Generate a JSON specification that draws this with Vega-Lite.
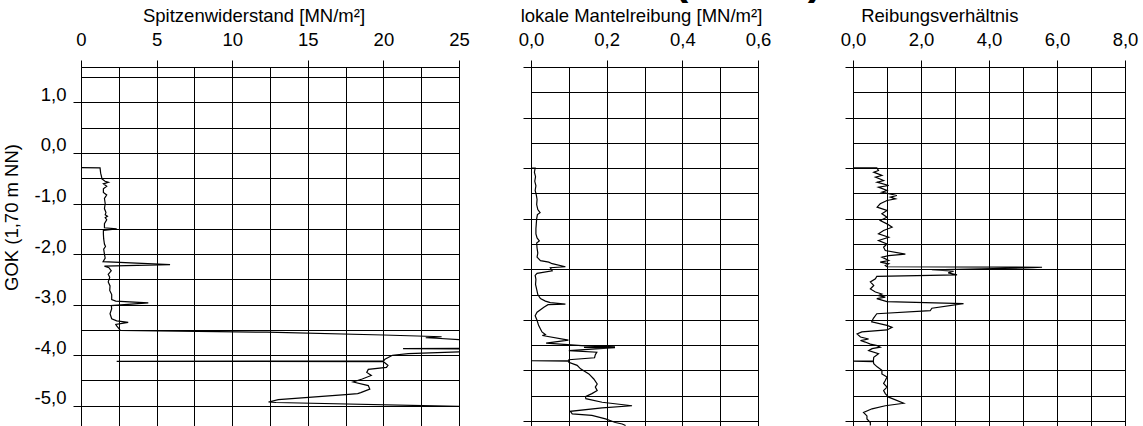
{
  "$schema": "https://vega.github.io/schema/vega-lite/v6.json",
  "padding": {"left": 1, "top": -40, "right": 0, "bottom": 0},
  "background": "white",
  "bounds": "flush",
  "spacing": 72,
  "title": {
    "text": "(\u00a0\u00a0\u00a0\u00a0\u00a0\u00a0\u00a0\u00a0\u00a0\u00a0)",
    "font": "Liberation Sans", "fontSize": 43, "fontWeight": "bold", "color": "#000",
    "anchor": "start", "frame": "group", "dx": 593, "baseline": "alphabetic", "offset": -31
  },
  "config": {
    "view": {"stroke": "#000", "strokeWidth": 1},
    "font": "Liberation Sans",
    "axis": {
      "labelFont": "Liberation Sans", "titleFont": "Liberation Sans",
      "labelFontSize": 18.5, "titleFontSize": 18.5, "titleFontWeight": "normal",
      "labelColor": "#000", "titleColor": "#000",
      "gridColor": "#000", "gridOpacity": 1, "gridWidth": 1,
      "tickColor": "#000", "tickWidth": 1, "domain": false,
      "labelOverlap": false, "labelFlush": false
    }
  },
  "datasets": {
    "qc": [
      {"z": -0.29, "v": 0.0}, {"z": -0.295, "v": 1.26}, {"z": -0.4, "v": 1.3}, {"z": -0.48, "v": 1.37},
      {"z": -0.51, "v": 1.37}, {"z": -0.56, "v": 1.59}, {"z": -0.58, "v": 1.81}, {"z": -0.61, "v": 1.48},
      {"z": -0.66, "v": 1.7}, {"z": -0.71, "v": 1.48}, {"z": -0.78, "v": 1.48}, {"z": -0.83, "v": 1.7},
      {"z": -0.9, "v": 1.55}, {"z": -1.0, "v": 1.6}, {"z": -1.1, "v": 1.55}, {"z": -1.18, "v": 1.65},
      {"z": -1.22, "v": 1.6}, {"z": -1.25, "v": 1.75}, {"z": -1.28, "v": 1.6}, {"z": -1.32, "v": 1.7},
      {"z": -1.4, "v": 1.55}, {"z": -1.48, "v": 1.55}, {"z": -1.5, "v": 2.36}, {"z": -1.53, "v": 1.48},
      {"z": -1.6, "v": 1.48}, {"z": -1.7, "v": 1.5}, {"z": -1.8, "v": 1.55}, {"z": -1.85, "v": 1.62},
      {"z": -1.9, "v": 1.5}, {"z": -2.0, "v": 1.55}, {"z": -2.08, "v": 1.6}, {"z": -2.15, "v": 1.46},
      {"z": -2.21, "v": 5.89}, {"z": -2.24, "v": 1.55}, {"z": -2.27, "v": 1.85}, {"z": -2.33, "v": 2.0},
      {"z": -2.4, "v": 1.8}, {"z": -2.46, "v": 1.9}, {"z": -2.55, "v": 1.8}, {"z": -2.63, "v": 1.92},
      {"z": -2.72, "v": 1.9}, {"z": -2.8, "v": 2.03}, {"z": -2.9, "v": 2.03}, {"z": -2.93, "v": 2.3},
      {"z": -2.965, "v": 4.45}, {"z": -3.02, "v": 2.0}, {"z": -3.08, "v": 2.03}, {"z": -3.18, "v": 1.92},
      {"z": -3.28, "v": 2.03}, {"z": -3.32, "v": 2.36}, {"z": -3.35, "v": 3.12}, {"z": -3.39, "v": 2.3},
      {"z": -3.42, "v": 2.36}, {"z": -3.46, "v": 2.47}, {"z": -3.51, "v": 2.6}, {"z": -3.545, "v": 12.3},
      {"z": -3.6, "v": 20.0}, {"z": -3.625, "v": 22.8}, {"z": -3.635, "v": 23.85}, {"z": -3.655, "v": 22.8},
      {"z": -3.665, "v": 23.5}, {"z": -3.69, "v": 25.0}, {"z": -3.72, "v": 27}, {"z": -3.85, "v": 27},
      {"z": -3.865, "v": 25.5}, {"z": -3.87, "v": 21.3}, {"z": -3.875, "v": 25.5}, {"z": -3.88, "v": 27},
      {"z": -3.92, "v": 27}, {"z": -3.935, "v": 25}, {"z": -3.97, "v": 21.65}, {"z": -4.0, "v": 20.6},
      {"z": -4.08, "v": 20.1}, {"z": -4.115, "v": 20.0}, {"z": -4.12, "v": 2.36}, {"z": -4.125, "v": 20.0},
      {"z": -4.14, "v": 20.05}, {"z": -4.2, "v": 20.3}, {"z": -4.24, "v": 20.2}, {"z": -4.28, "v": 19.0},
      {"z": -4.34, "v": 18.9}, {"z": -4.4, "v": 19.2}, {"z": -4.47, "v": 18.6}, {"z": -4.53, "v": 18.0},
      {"z": -4.6, "v": 19.0}, {"z": -4.67, "v": 19.1}, {"z": -4.74, "v": 18.5}, {"z": -4.76, "v": 18.3},
      {"z": -4.78, "v": 17.5}, {"z": -4.88, "v": 13.05}, {"z": -4.925, "v": 12.4}, {"z": -4.935, "v": 12.9},
      {"z": -5.01, "v": 25.0}, {"z": -5.05, "v": 27}, {"z": -5.39, "v": 27}
    ],
    "fs": [
      {"z": -0.3, "v": 0.0}, {"z": -0.301, "v": 0.011}, {"z": -0.38, "v": 0.009}, {"z": -0.47, "v": 0.012},
      {"z": -0.56, "v": 0.01}, {"z": -0.65, "v": 0.013}, {"z": -0.74, "v": 0.011}, {"z": -0.83, "v": 0.014},
      {"z": -0.92, "v": 0.016}, {"z": -1.02, "v": 0.015}, {"z": -1.12, "v": 0.018}, {"z": -1.18, "v": 0.024},
      {"z": -1.22, "v": 0.017}, {"z": -1.3, "v": 0.015}, {"z": -1.4, "v": 0.014}, {"z": -1.5, "v": 0.013},
      {"z": -1.6, "v": 0.013}, {"z": -1.68, "v": 0.016}, {"z": -1.74, "v": 0.022}, {"z": -1.78, "v": 0.015},
      {"z": -1.88, "v": 0.016}, {"z": -1.98, "v": 0.018}, {"z": -2.06, "v": 0.016}, {"z": -2.13, "v": 0.025},
      {"z": -2.16, "v": 0.047}, {"z": -2.19, "v": 0.056}, {"z": -2.25, "v": 0.091}, {"z": -2.27, "v": 0.051},
      {"z": -2.33, "v": 0.056}, {"z": -2.38, "v": 0.016}, {"z": -2.42, "v": 0.011}, {"z": -2.5, "v": 0.013},
      {"z": -2.6, "v": 0.012}, {"z": -2.7, "v": 0.015}, {"z": -2.8, "v": 0.018}, {"z": -2.88, "v": 0.025},
      {"z": -2.93, "v": 0.038}, {"z": -2.96, "v": 0.051}, {"z": -2.99, "v": 0.091}, {"z": -3.0, "v": 0.045},
      {"z": -3.05, "v": 0.034}, {"z": -3.1, "v": 0.025}, {"z": -3.15, "v": 0.016}, {"z": -3.22, "v": 0.011},
      {"z": -3.31, "v": 0.016}, {"z": -3.41, "v": 0.02}, {"z": -3.48, "v": 0.025}, {"z": -3.54, "v": 0.029},
      {"z": -3.59, "v": 0.038}, {"z": -3.61, "v": 0.03}, {"z": -3.7, "v": 0.099}, {"z": -3.76, "v": 0.04},
      {"z": -3.81, "v": 0.134}, {"z": -3.835, "v": 0.222}, {"z": -3.845, "v": 0.14}, {"z": -3.85, "v": 0.222},
      {"z": -3.91, "v": 0.1}, {"z": -3.94, "v": 0.174}, {"z": -3.99, "v": 0.17}, {"z": -4.05, "v": 0.168},
      {"z": -4.09, "v": 0.1}, {"z": -4.105, "v": 0.1}, {"z": -4.11, "v": 0.0}, {"z": -4.115, "v": 0.1},
      {"z": -4.14, "v": 0.1}, {"z": -4.2, "v": 0.122}, {"z": -4.27, "v": 0.131}, {"z": -4.37, "v": 0.153},
      {"z": -4.47, "v": 0.166}, {"z": -4.57, "v": 0.175}, {"z": -4.63, "v": 0.17}, {"z": -4.7, "v": 0.175},
      {"z": -4.76, "v": 0.161}, {"z": -4.82, "v": 0.144}, {"z": -4.86, "v": 0.145}, {"z": -4.93, "v": 0.188},
      {"z": -5.0, "v": 0.267}, {"z": -5.04, "v": 0.188}, {"z": -5.11, "v": 0.104}, {"z": -5.16, "v": 0.109},
      {"z": -5.19, "v": 0.161}, {"z": -5.26, "v": 0.197}, {"z": -5.33, "v": 0.223}, {"z": -5.36, "v": 0.241},
      {"z": -5.39, "v": 0.25}
    ],
    "rf": [
      {"z": -0.294, "v": 0.0}, {"z": -0.295, "v": 0.7}, {"z": -0.347, "v": 0.75}, {"z": -0.38, "v": 0.61},
      {"z": -0.445, "v": 0.85}, {"z": -0.479, "v": 0.66}, {"z": -0.545, "v": 0.9}, {"z": -0.578, "v": 0.71},
      {"z": -0.644, "v": 1.05}, {"z": -0.676, "v": 0.75}, {"z": -0.742, "v": 1.0}, {"z": -0.775, "v": 0.85},
      {"z": -0.841, "v": 1.29}, {"z": -0.874, "v": 1.1}, {"z": -0.907, "v": 1.25}, {"z": -0.94, "v": 1.0},
      {"z": -1.006, "v": 0.8}, {"z": -1.072, "v": 0.71}, {"z": -1.138, "v": 1.0}, {"z": -1.204, "v": 0.85},
      {"z": -1.27, "v": 1.0}, {"z": -1.336, "v": 0.8}, {"z": -1.402, "v": 1.0}, {"z": -1.468, "v": 1.15},
      {"z": -1.534, "v": 0.9}, {"z": -1.6, "v": 0.75}, {"z": -1.666, "v": 1.05}, {"z": -1.732, "v": 0.75},
      {"z": -1.798, "v": 1.0}, {"z": -1.864, "v": 0.9}, {"z": -1.93, "v": 0.95}, {"z": -2.0, "v": 1.54},
      {"z": -2.03, "v": 1.05}, {"z": -2.06, "v": 0.85}, {"z": -2.127, "v": 1.05}, {"z": -2.16, "v": 0.8},
      {"z": -2.193, "v": 1.05}, {"z": -2.226, "v": 0.95}, {"z": -2.25, "v": 1.0}, {"z": -2.26, "v": 5.56},
      {"z": -2.27, "v": 5.3}, {"z": -2.31, "v": 2.32}, {"z": -2.34, "v": 2.96}, {"z": -2.37, "v": 2.8},
      {"z": -2.41, "v": 3.06}, {"z": -2.44, "v": 0.7}, {"z": -2.49, "v": 0.66}, {"z": -2.55, "v": 0.51},
      {"z": -2.62, "v": 0.61}, {"z": -2.69, "v": 0.51}, {"z": -2.75, "v": 0.66}, {"z": -2.79, "v": 0.85},
      {"z": -2.82, "v": 0.75}, {"z": -2.85, "v": 0.95}, {"z": -2.88, "v": 0.7}, {"z": -2.94, "v": 1.0},
      {"z": -2.98, "v": 3.25}, {"z": -3.07, "v": 2.32}, {"z": -3.12, "v": 2.27}, {"z": -3.18, "v": 0.7},
      {"z": -3.27, "v": 0.6}, {"z": -3.34, "v": 0.55}, {"z": -3.41, "v": 1.0}, {"z": -3.45, "v": 1.15},
      {"z": -3.5, "v": 1.0}, {"z": -3.54, "v": 0.26}, {"z": -3.58, "v": 0.12}, {"z": -3.64, "v": 0.22},
      {"z": -3.68, "v": 0.46}, {"z": -3.71, "v": 0.22}, {"z": -3.74, "v": 0.36}, {"z": -3.78, "v": 0.51},
      {"z": -3.81, "v": 0.71}, {"z": -3.84, "v": 0.8}, {"z": -3.87, "v": 0.56}, {"z": -3.91, "v": 0.46},
      {"z": -3.97, "v": 0.75}, {"z": -4.04, "v": 0.61}, {"z": -4.11, "v": 0.6}, {"z": -4.115, "v": 0.0},
      {"z": -4.125, "v": 0.6}, {"z": -4.17, "v": 0.61}, {"z": -4.23, "v": 0.71}, {"z": -4.3, "v": 0.85},
      {"z": -4.37, "v": 0.85}, {"z": -4.43, "v": 1.0}, {"z": -4.5, "v": 0.95}, {"z": -4.56, "v": 0.9},
      {"z": -4.63, "v": 1.0}, {"z": -4.7, "v": 0.9}, {"z": -4.76, "v": 0.95}, {"z": -4.83, "v": 1.05},
      {"z": -4.95, "v": 1.49}, {"z": -5.0, "v": 0.95}, {"z": -5.06, "v": 0.56}, {"z": -5.13, "v": 0.31},
      {"z": -5.2, "v": 0.41}, {"z": -5.26, "v": 0.41}, {"z": -5.33, "v": 0.51}, {"z": -5.39, "v": 0.51}
    ]
  },
  "hconcat": [
    {
      "width": 378, "height": 359,
      "data": {"name": "qc"},
      "mark": {"type": "line", "color": "#000", "strokeWidth": 1.2, "clip": true},
      "encoding": {
        "x": {
          "field": "v", "type": "quantitative",
          "scale": {"domain": [0, 25], "nice": false, "zero": false},
          "axis": {
            "orient": "top", "title": "Spitzenwiderstand [MN/m²]",
            "values": [0, 2.5, 5, 7.5, 10, 12.5, 15, 17.5, 20, 22.5, 25],
            "labelExpr": "datum.value % 5 === 0 ? format(datum.value, 'd') : ''",
            "tickSize": 7,
            "tickOpacity": {"condition": {"test": "datum.value % 5 === 0", "value": 1}, "value": 0},
            "labelBaseline": "alphabetic", "labelPadding": 15,
            "titleX": 172.5, "titleY": -45.5, "titleAlign": "center", "titleBaseline": "alphabetic"
          }
        },
        "y": {
          "field": "z", "type": "quantitative",
          "scale": {"domain": [-5.4, 1.7], "nice": false, "zero": false},
          "axis": {
            "title": "GOK (1,70 m NN)",
            "values": [1.5, 1, 0.5, 0, -0.5, -1, -1.5, -2, -2.5, -3, -3.5, -4, -4.5, -5],
            "labelExpr": "datum.value % 1 === 0 ? replace(replace(format(datum.value, '.1f'), '.', ','), '−', '-') : ''",
            "tickSize": 8,
            "tickOpacity": {"condition": {"test": "datum.value % 1 === 0", "value": 1}, "value": 0},
            "labelPadding": 7, "labelBaseline": "alphabetic", "labelOffset": -2,
            "titleAngle": -90, "titleX": -64, "titleY": 150, "titleAlign": "center", "titleBaseline": "alphabetic"
          }
        },
        "order": {"value": null}
      }
    },
    {
      "bounds": "flush",
      "spacing": 95,
      "hconcat": [
        {
          "width": 227, "height": 359,
          "data": {"name": "fs"},
          "mark": {"type": "line", "color": "#000", "strokeWidth": 1.2, "clip": true},
          "encoding": {
            "x": {
              "field": "v", "type": "quantitative",
              "scale": {"domain": [0, 0.6], "nice": false, "zero": false},
              "axis": {
                "orient": "top", "title": "lokale Mantelreibung [MN/m²]",
                "values": [0, 0.1, 0.2, 0.3, 0.4, 0.5, 0.6],
                "labelExpr": "indexof([0, 0.2, 0.4, 0.6], datum.value) >= 0 ? replace(format(datum.value, '.1f'), '.', ',') : ''",
                "tickSize": 7,
                "tickOpacity": {"condition": {"test": "indexof([0, 0.2, 0.4, 0.6], datum.value) >= 0", "value": 1}, "value": 0},
                "labelBaseline": "alphabetic", "labelPadding": 15,
                "titleX": 110, "titleY": -45.5, "titleAlign": "center", "titleBaseline": "alphabetic"
              }
            },
            "y": {
              "field": "z", "type": "quantitative",
              "scale": {"domain": [-5.4, 1.7], "nice": false, "zero": false},
              "axis": {
                "title": null, "labels": false,
                "values": [1.7, 1.2, 0.7, 0.2, -0.3, -0.8, -1.3, -1.8, -2.3, -2.8, -3.3, -3.8, -4.3, -4.8, -5.3],
                "tickSize": 8,
                "tickOpacity": {"condition": {"test": "indexof([1.7, 0.7, -0.3, -1.3, -2.3, -3.3, -4.3, -5.3], datum.value) >= 0", "value": 1}, "value": 0}
              }
            },
            "order": {"value": null}
          }
        },
        {
          "width": 272, "height": 359,
          "data": {"name": "rf"},
          "mark": {"type": "line", "color": "#000", "strokeWidth": 1.2, "clip": true},
          "encoding": {
            "x": {
              "field": "v", "type": "quantitative",
              "scale": {"domain": [0, 8], "nice": false, "zero": false},
              "axis": {
                "orient": "top", "title": "Reibungsverhältnis",
                "values": [0, 1, 2, 3, 4, 5, 6, 7, 8],
                "labelExpr": "datum.value % 2 === 0 ? replace(format(datum.value, '.1f'), '.', ',') : ''",
                "tickSize": 7,
                "tickOpacity": {"condition": {"test": "datum.value % 2 === 0", "value": 1}, "value": 0},
                "labelBaseline": "alphabetic", "labelPadding": 15,
                "titleX": 86.3, "titleY": -45.5, "titleAlign": "center", "titleBaseline": "alphabetic"
              }
            },
            "y": {
              "field": "z", "type": "quantitative",
              "scale": {"domain": [-5.4, 1.7], "nice": false, "zero": false},
              "axis": {
                "title": null, "labels": false,
                "values": [1.7, 1.2, 0.7, 0.2, -0.3, -0.8, -1.3, -1.8, -2.3, -2.8, -3.3, -3.8, -4.3, -4.8, -5.3],
                "tickSize": 8,
                "tickOpacity": {"condition": {"test": "indexof([1.7, 0.7, -0.3, -1.3, -2.3, -3.3, -4.3, -5.3], datum.value) >= 0", "value": 1}, "value": 0}
              }
            },
            "order": {"value": null}
          }
        }
      ]
    }
  ]
}
